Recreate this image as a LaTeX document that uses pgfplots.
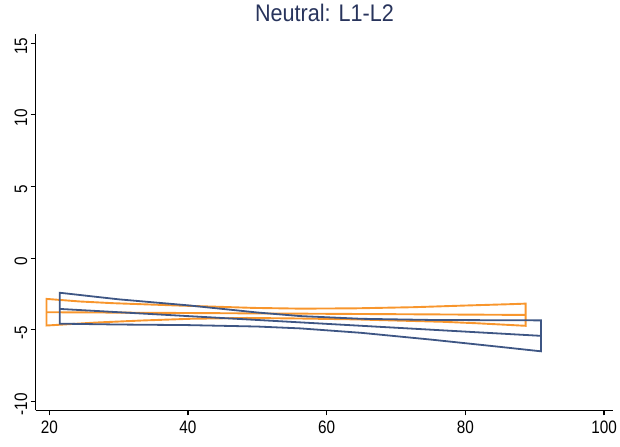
\documentclass[border=0pt]{standalone}
\usepackage{pgfplots}
\pgfplotsset{compat=1.18}
\usepackage{fontspec}
\setmainfont{Liberation Sans}[FakeStretch=0.85]
\newfontfamily\titlefont{Liberation Sans}[FakeStretch=0.9]
\definecolor{sblue}{RGB}{62,86,132}
\definecolor{sorange}{RGB}{248,150,45}
\definecolor{stitle}{RGB}{40,52,92}
\begin{document}
\begin{tikzpicture}
\useasboundingbox (-35.7bp,-36.7bp) rectangle (584.3bp,410.3bp);
\begin{axis}[
  at={(0,0)}, anchor=south west,
  scale only axis,
  width=577.6bp, height=376.3bp,
  xmin=18.04, xmax=101.34,
  ymin=-10.63, ymax=15.65,
  axis lines=left,
  axis line style={-, line width=1.2bp, black},
  tick align=outside,
  major tick length=5bp,
  tick style={line width=1.1bp, black},
  xtick={20,40,60,80,100},
  ytick={-10,-5,0,5,10,15},
  /pgf/number format/assume math mode=true,
  tick label style={font=\fontsize{18bp}{20bp}\selectfont, black},
  yticklabel style={rotate=90, anchor=south, xshift=-3bp},
  xticklabel style={yshift=-2bp},
  title={Neutral: L1-L2},
  title style={at={(0.5,1)}, anchor=base, yshift=7bp,
    font=\titlefont\fontsize{24bp}{26bp}\selectfont, text=stitle},
  clip=false,
]
% orange band
\addplot[sorange, line width=1.9bp] coordinates {
 (19.6,-2.85) (24.4,-3.03) (29.2,-3.15) (38.4,-3.31) (43.7,-3.39) (49.5,-3.48) (56.2,-3.53) (64,-3.51) (72.5,-3.43) (80.2,-3.31) (86.4,-3.22) (88.7,-3.18)
 (88.7,-4.73) (86.4,-4.67) (81.6,-4.55) (76.8,-4.45) (70,-4.36) (64,-4.28) (56.2,-4.22) (48.5,-4.18) (40.3,-4.24) (33.3,-4.36) (26.8,-4.50) (19.6,-4.71)
} -- cycle;
\addplot[sorange, line width=1.9bp] coordinates {(19.6,-3.78) (88.7,-3.97)};
% blue band (upper forward, lower backward)
\addplot[sblue, line width=1.8bp] coordinates {
 (21.5,-2.42) (30,-2.88) (40,-3.30) (50,-3.80) (56.2,-4.05) (65,-4.24) (75,-4.32) (85,-4.34) (90.9,-4.35)
 (90.9,-6.51) (85,-6.20) (75,-5.69) (65,-5.22) (56.2,-4.91) (50,-4.78) (40,-4.68) (30,-4.64) (21.5,-4.58)
} -- cycle;
\addplot[sblue, line width=1.8bp] coordinates {(21.5,-3.55) (90.9,-5.43)};
\end{axis}
\end{tikzpicture}
\end{document}
